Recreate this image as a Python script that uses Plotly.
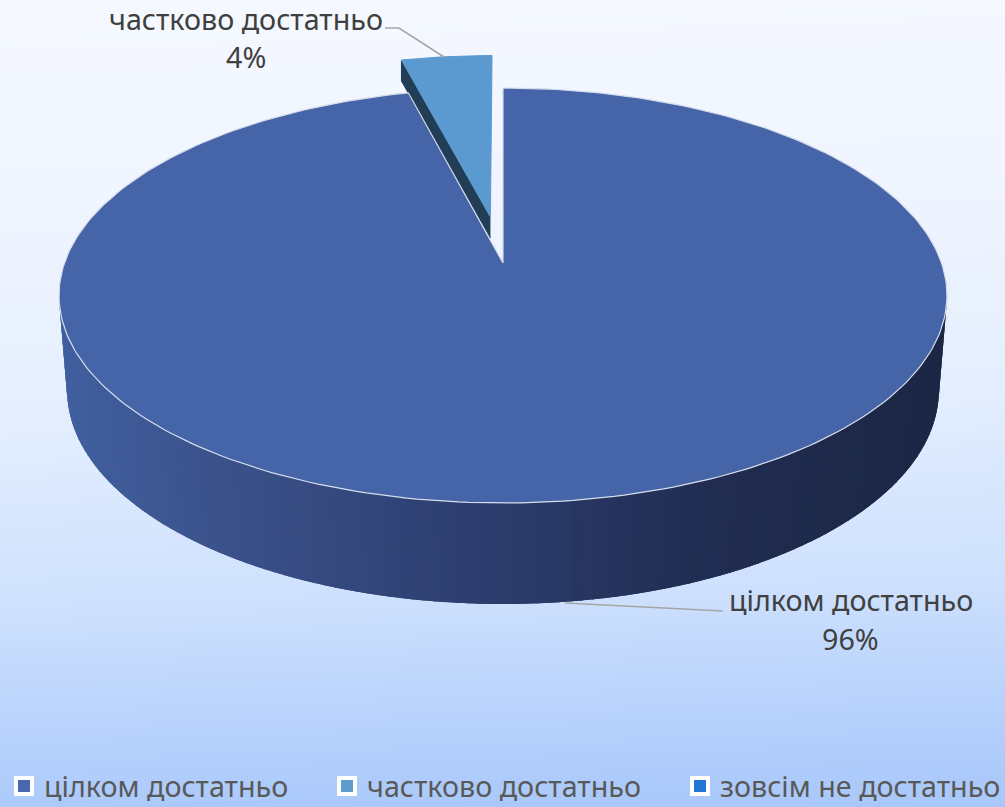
import numpy as np
import plotly.graph_objects as go

# ---- data ----
categories = ["цілком достатньо", "частково достатньо", "зовсім не достатньо"]
values = [96, 4, 0]
slice_colors = ["#4664A8", "#5B9AD0", "#2277D4"]
legend_colors = ["#4A66AC", "#5E9BCF", "#2277D4"]

W, H = 1005, 807
FONT = "Noto Sans"
FS = 28.7

# ---- pie projection (perspective of a tilted unit circle) ----
CX, CY = 503.0, 263.0
A, B, K = 202.4, 438.5, 0.1566
EXPLODE = 0.2376
SMALL_R = 0.985


def project(px, py):
    d = 1 + K * py
    return CX + B * px / d, CY - A * py / d


def sector(a0, a1, r=1.0, off=(0.0, 0.0), n=300):
    t = np.linspace(a0, a1, n)
    px = np.concatenate([[off[0]], off[0] + r * np.sin(t), [off[0]]])
    py = np.concatenate([[off[1]], off[1] + r * np.cos(t), [off[1]]])
    return project(px, py)


total = sum(values)
frac = np.array(values) / total
edges = np.concatenate([[0], np.cumsum(frac)]) * 2 * np.pi

fig = go.Figure()

# ---- background gradient ----
gx = np.linspace(-60, W + 60, 5)
gy = np.linspace(-40, H + 40, 25)
stop_y = [0, 200, 400, 600, 700, 807]
stop_v = [0.0, 0.08, 0.24, 0.52, 0.74, 1.0]
gz = [[np.interp(y + (x - W / 2) * 0.035, stop_y, stop_v) for x in gx] for y in gy]
fig.add_trace(go.Heatmap(
    x=gx, y=gy, z=gz, zmin=0, zmax=1, zsmooth="best", showscale=False, hoverinfo="skip",
    colorscale=[[0, "#F5F8FF"], [0.24, "#E4EEFE"], [0.52, "#CDE0FD"], [0.74, "#BAD4FC"], [1, "#A9C8FA"]],
))

# ---- outer wall: overlapping strips painted right to left, so no seams show ----
stops_x = [60, 250, 500, 700, 945]
stops_rgb = np.array([[65, 96, 160], [58, 80, 136], [44, 60, 108], [33, 45, 82], [28, 39, 69]])
ts = np.linspace(0, np.pi, 121)
WY0 = 295.5
WY1 = 390.0
for i in range(len(ts) - 1):
    t_a, t_b = ts[i], ts[i + 1]
    arc = np.linspace(t_a, min(t_b + 0.03, np.pi), 4)
    qx = np.concatenate([503 + 444 * np.cos(arc), (503 + 436 * np.cos(arc))[::-1]])
    qy = np.concatenate([WY0 + 207.5 * np.sin(arc), (WY1 + 214 * np.sin(arc))[::-1]])
    mx = 503 + 440 * np.cos((t_a + t_b) / 2)
    rgb = [int(np.interp(mx, stops_x, stops_rgb[:, c])) for c in range(3)]
    col = f"rgb({rgb[0]},{rgb[1]},{rgb[2]})"
    fig.add_trace(go.Scatter(x=qx, y=qy, mode="lines", fill="toself", fillcolor=col,
                             line=dict(color=col, width=0), showlegend=False, hoverinfo="skip"))

# ---- exploded slice ----
mid = (edges[1] + edges[2]) / 2
off = (EXPLODE * np.sin(mid), EXPLODE * np.cos(mid))
sx, sy = sector(edges[1], edges[2], SMALL_R, off, n=40)
wall_x = [sx[0], sx[1], sx[1], sx[0]]
wall_y = [sy[0], sy[1], sy[1] + 21, sy[0] + 21]
fig.add_trace(go.Scatter(x=wall_x, y=wall_y, mode="lines", fill="toself", fillcolor="#213E56",
                         line=dict(color="#213E56", width=1), showlegend=False, hoverinfo="skip"))
fig.add_trace(go.Scatter(x=sx, y=sy, mode="lines", fill="toself", fillcolor=slice_colors[1],
                         line=dict(color=slice_colors[1], width=1), showlegend=False, hoverinfo="skip"))

# ---- main slice ----
bx, by = sector(edges[0], edges[1], 1.0)
fig.add_trace(go.Scatter(x=bx, y=by, mode="lines", fill="toself", fillcolor=slice_colors[0],
                         line=dict(color="#D5DDEA", width=1.2), showlegend=False, hoverinfo="skip"))

# ---- leader lines ----
fig.add_trace(go.Scatter(x=[385, 399, 444], y=[28, 28, 57], mode="lines",
                         line=dict(color="#A6A6A6", width=1.5), showlegend=False, hoverinfo="skip"))
fig.add_trace(go.Scatter(x=[565, 723], y=[603, 611], mode="lines",
                         line=dict(color="#A6A6A6", width=1.5), showlegend=False, hoverinfo="skip"))

# ---- legend entries ----
for i, (cat, col) in enumerate(zip(categories, legend_colors)):
    key = "legend" if i == 0 else f"legend{i + 1}"
    fig.add_trace(go.Scatter(x=[None], y=[None], mode="markers", name=cat, legend=key,
                             marker=dict(symbol="square", size=16, color=col,
                                         line=dict(color="white", width=4))))

# ---- data labels ----
label_pos = [(850.5, 599.5, 638.5), (245.5, 18, 56.5)]
annotations = []
for i, (lx, y1, y2) in enumerate(label_pos):
    for text, y in ((categories[i], y1), (f"{values[i]}%", y2)):
        annotations.append(dict(x=lx, y=y, xref="x", yref="y", text=text, showarrow=False,
                                xanchor="center", yanchor="middle",
                                font=dict(family=FONT, size=FS, color="#404040")))

legend_base = dict(orientation="h", yanchor="bottom", y=-0.006, xanchor="left",
                   bgcolor="rgba(0,0,0,0)", borderwidth=0,
                   font=dict(family=FONT, size=FS, color="#595959"))

fig.update_layout(
    width=W, height=H, autosize=False,
    margin=dict(l=0, r=0, t=0, b=0, autoexpand=False),
    paper_bgcolor="#F5F8FF", plot_bgcolor="rgba(0,0,0,0)",
    xaxis=dict(range=[0, W], visible=False, fixedrange=True),
    yaxis=dict(range=[H, 0], visible=False, fixedrange=True),
    annotations=annotations,
    showlegend=True,
    legend=dict(legend_base, x=4 / W),
    legend2=dict(legend_base, x=327 / W),
    legend3=dict(legend_base, x=680 / W),
    hovermode=False,
)

fig.write_html("out.html", config={"displayModeBar": False},
               post_script="document.body.style.margin='0';")
